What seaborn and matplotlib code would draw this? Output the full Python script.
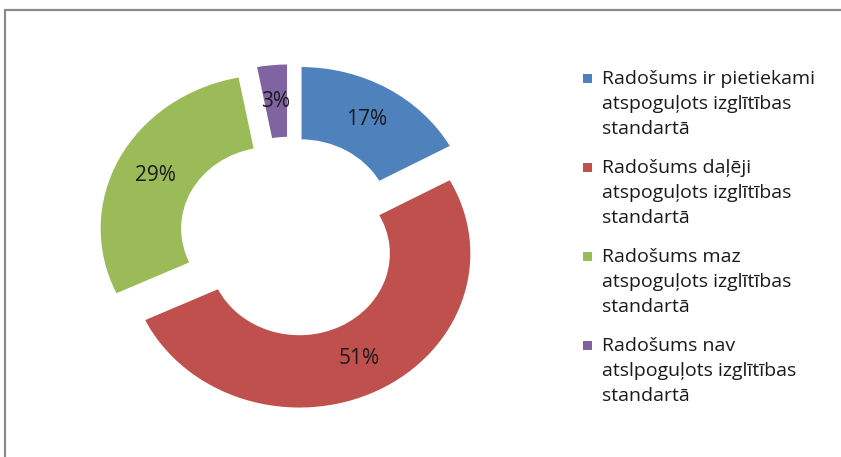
import matplotlib
matplotlib.use("Agg")
import matplotlib.pyplot as plt
from matplotlib.lines import Line2D
from matplotlib.patches import Rectangle
import seaborn as sns

# dati
categories = [
    "Radošums ir pietiekami\natspoguļots izglītības\nstandartā",
    "Radošums daļēji\natspoguļots izglītības\nstandartā",
    "Radošums maz\natspoguļots izglītības\nstandartā",
    "Radošums nav\natslpoguļots izglītības\nstandartā",
]
shares = [17, 51, 29, 3]
pct_labels = ["17%", "51%", "29%", "3%"]

sns.set_theme(style="white")
plt.rcParams["font.family"] = ["Open Sans", "DejaVu Sans"]
colors = sns.color_palette(["#4F81BD", "#C0504D", "#9BBB59", "#8064A2"])

W, H = 841, 457
fig = plt.figure(figsize=(W / 100, H / 100), dpi=100)
fig.patch.set_facecolor("white")

# donut centre ~ (290, 237) px, radius x 172 px, y 155 px
rx, ry = 172, 155
cx, cy = 290, 237
lim = 1.3
ax = fig.add_axes([(cx - lim * rx) / W, (H - cy - lim * ry) / H,
                   2 * lim * rx / W, 2 * lim * ry / H])

wedges, texts = ax.pie(
    shares,
    colors=colors,
    startangle=90,
    counterclock=False,
    explode=[0.12] * 4,
    labels=pct_labels,
    labeldistance=0.76,
    wedgeprops=dict(width=0.48, edgecolor="white", linewidth=1.5),
    textprops=dict(fontsize=15, color="#1a1a1a", ha="center", va="center"),
)
ax.set_aspect("auto")
ax.set_xlim(-lim, lim)
ax.set_ylim(-lim, lim)
ax.axis("off")

# legenda
y0 = 78
for i, (lab, col) in enumerate(zip(categories, colors)):
    yc = y0 + i * 89
    fig.add_artist(Rectangle((583 / W, (H - yc - 5) / H), 9 / W, 9 / H,
                             transform=fig.transFigure, facecolor=col,
                             edgecolor="none"))
    fig.text(602 / W, (H - yc + 8) / H, lab, fontsize=14, color="#1a1a1a",
             va="top", ha="left", linespacing=1.5)

# rāmis
fig.add_artist(Line2D([5 / W, 1.0], [(H - 9.5) / H] * 2, color="#8a8a8a", lw=1.6))
fig.add_artist(Line2D([5 / W] * 2, [0, (H - 9.5) / H], color="#8a8a8a", lw=1.6))

fig.savefig("out.png", dpi=100)
